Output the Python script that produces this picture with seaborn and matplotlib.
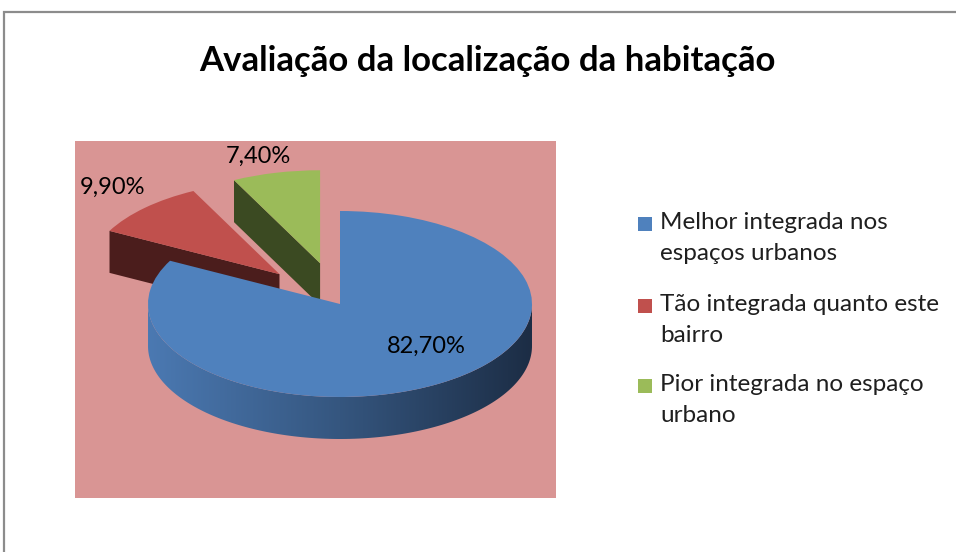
import numpy as np
import matplotlib
matplotlib.use("Agg")
import matplotlib.pyplot as plt
import seaborn as sns
from matplotlib.patches import Polygon, Rectangle
from matplotlib.colors import LinearSegmentedColormap

title = "Avaliação da localização da habitação"
categories = ["Melhor integrada nos\nespaços urbanos",
              "Tão integrada quanto este\nbairro",
              "Pior integrada no espaço\nurbano"]
values = [82.7, 9.9, 7.4]
value_labels = ["82,70%", "9,90%", "7,40%"]

top_colors = ["#4F81BD", "#C0504D", "#9BBB59"]
side_colors = ["#2f4d75", "#4b1d1c", "#3b4a22"]
explode = [0.0, 0.45, 0.45]
label_dist = [0.6, 1.28, 1.2]
label_shift = [(19, 4), (4, 1), (-6, -1)]  # offset points

sns.set_theme(style="white")
plt.rcParams["font.family"] = ["Lato", "DejaVu Sans"]

W, H = 956, 552
fig = plt.figure(figsize=(W / 100, H / 100), dpi=100)


def fx(px):
    return px / W


def fy(py):
    return 1 - py / H


# outer chart frame (cut off at right / bottom like the screenshot)
fig.add_artist(Rectangle((fx(4), -0.2), 1.2, fy(12) + 0.2, transform=fig.transFigure,
                         fill=False, edgecolor="#8c8c8c", lw=1.6))

fig.text(fx(487), fy(61), title, ha="center", va="center", fontsize=25,
         fontweight="bold", color="black")

# plot area
ax = fig.add_axes([fx(75), fy(498), fx(556) - fx(75), (498 - 141) / H])
ax.set_facecolor("#D99594")

wedges, _ = ax.pie(values, startangle=90, counterclock=False, explode=explode,
                   colors=top_colors, frame=True, wedgeprops=dict(linewidth=0, zorder=3))

# squash the pie into an ellipse and give it some depth
rx_px, ry_px, depth_px = 192, 93, 42
cx_px, cy_px = 340 - 75, 304 - 141
xlim = (-cx_px / rx_px, (556 - 75 - cx_px) / rx_px)
ylim = (-(357 - cy_px) / ry_px, cy_px / ry_px)
d = depth_px / ry_px

blue_cmap = LinearSegmentedColormap.from_list("side", ["#4b79b2", "#35567f", "#1c2d45"])

for i, w in enumerate(wedges):
    cx, cy = w.center
    r = w.r
    t1, t2 = w.theta1, w.theta2
    # radial faces turned towards the viewer
    for a, vis in ((t2, np.cos(np.deg2rad(t2)) < -1e-6), (t1, np.cos(np.deg2rad(t1)) > 1e-6)):
        if vis:
            ar = np.deg2rad(a)
            px, py = cx + r * np.cos(ar), cy + r * np.sin(ar)
            ax.add_patch(Polygon([(cx, cy), (px, py), (px, py - d), (cx, cy - d)],
                                 closed=True, facecolor=side_colors[i], lw=0, zorder=2))
    # outer rim, front half only
    for f_lo, f_hi in ((-180, 0), (180, 360)):
        lo, hi = max(t1, f_lo), min(t2, f_hi)
        if hi <= lo:
            continue
        th = np.deg2rad(np.linspace(lo, hi, 150))
        top = np.column_stack([cx + r * np.cos(th), cy + r * np.sin(th)])
        bot = top[::-1] - [0, d]
        rim = Polygon(np.vstack([top, bot]), closed=True, lw=0, zorder=2,
                      facecolor=side_colors[i])
        ax.add_patch(rim)
        if i == 0:
            rim.set_facecolor("none")
            grad = np.linspace(0, 1, 256).reshape(1, -1)
            im = ax.imshow(grad, cmap=blue_cmap, aspect="auto", zorder=2.5,
                           extent=(cx - r, cx + r, cy - r - d, cy + 0.05))
            im.set_clip_path(rim)

ax.set_aspect("auto")
ax.set_xlim(*xlim)
ax.set_ylim(*ylim)
ax.set_xticks([])
ax.set_yticks([])
for s in ax.spines.values():
    s.set_visible(False)

for w, lab, dist, sh in zip(wedges, value_labels, label_dist, label_shift):
    mid = np.deg2rad((w.theta1 + w.theta2) / 2)
    cx, cy = w.center
    ax.annotate(lab, (cx + dist * w.r * np.cos(mid), cy + dist * w.r * np.sin(mid)),
                xytext=sh, textcoords="offset points", ha="center", va="center",
                fontsize=17, color="black", zorder=5)

# legend: square next to the first line of each (wrapped) entry
leg_y = [224, 306, 386]
for lab, col, y in zip(categories, top_colors, leg_y):
    fig.add_artist(Rectangle((fx(638), fy(y + 7)), 14 / W, 14 / H, transform=fig.transFigure,
                             facecolor=col, edgecolor="none"))
    fig.text(fx(660), fy(y - 12), lab, ha="left", va="top", fontsize=17.5,
             linespacing=1.6, color="#1f1f1f")

fig.savefig("out.png", dpi=100)
